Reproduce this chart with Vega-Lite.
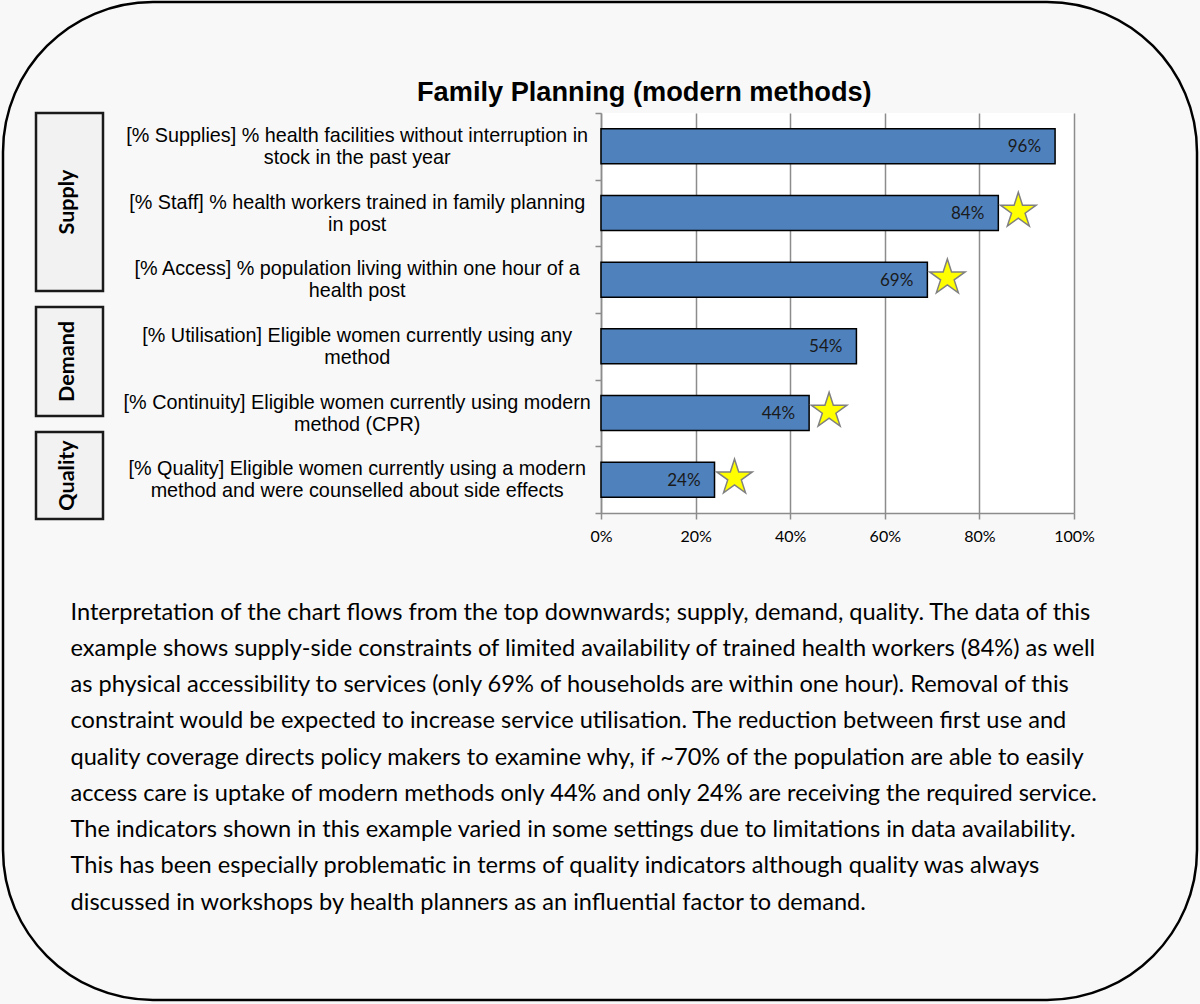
{
  "$schema": "https://vega.github.io/schema/vega-lite/v6.json",
  "width": 473,
  "height": 400,
  "autosize": {"type": "none"},
  "padding": {"left": 601, "top": 113, "right": 126, "bottom": 491},
  "background": "#f8f8f8",
  "view": {"fill": "#ffffff", "stroke": null},
  "title": {
    "text": "Family Planning (modern methods)",
    "font": "Liberation Sans",
    "fontSize": 27.2,
    "fontWeight": "bold",
    "color": "#000000",
    "anchor": "start",
    "frame": "group",
    "orient": "top",
    "offset": 11,
    "dx": -184,
    "dy": 138.5,
    "baseline": "alphabetic"
  },
  "datasets": {
    "indicators": [
      {"indicator": "[% Supplies] % health facilities without interruption in|stock in the past year", "value": 0.96, "star": false},
      {"indicator": "[% Staff] % health workers trained in family planning|in post", "value": 0.84, "star": true},
      {"indicator": "[% Access] % population living within one hour of a|health post", "value": 0.69, "star": true},
      {"indicator": "[% Utilisation] Eligible women currently using any|method", "value": 0.54, "star": false},
      {"indicator": "[% Continuity] Eligible women currently using modern|method (CPR)", "value": 0.44, "star": true},
      {"indicator": "[% Quality] Eligible women currently using a modern|method and were counselled about side effects", "value": 0.24, "star": true}
    ],
    "groups": [
      {"group": "Supply", "first": 0, "last": 3},
      {"group": "Demand", "first": 3, "last": 5},
      {"group": "Quality", "first": 5, "last": 6}
    ],
    "frame": [{"name": "frame"}]
  },
  "resolve": {"scale": {"x": "independent", "y": "independent"}, "axis": {"x": "independent", "y": "independent"}},
  "layer": [
    {
      "data": {"name": "frame"},
      "mark": {"type": "rect", "fill": "#ffffff", "fillOpacity": 0, "stroke": "#000000", "strokeWidth": 2.5, "cornerRadius": 150},
      "encoding": {
        "x": {"datum": 0, "type": "quantitative", "scale": {"domain": [0, 1], "range": [-598, 596], "nice": false, "zero": false}, "axis": null},
        "x2": {"datum": 1},
        "y": {"datum": 0, "type": "quantitative", "scale": {"domain": [0, 1], "range": [-111, 887], "nice": false, "zero": false}, "axis": null},
        "y2": {"datum": 1}
      }
    },
    {
      "data": {"name": "groups"},
      "mark": {"type": "rect", "fill": "#f2f2f2", "stroke": "#1a1a1a", "strokeWidth": 2.5, "yOffset": 8, "y2Offset": -8},
      "encoding": {
        "x": {"datum": 0, "type": "quantitative", "scale": {"domain": [0, 1], "range": [-565, -498], "nice": false, "zero": false}, "axis": null},
        "x2": {"datum": 1},
        "y": {"field": "first", "type": "quantitative", "scale": {"domain": [0, 3, 5, 6], "range": [-8, 186, 311, 414], "nice": false, "zero": false}, "axis": null},
        "y2": {"field": "last"}
      }
    },
    {
      "data": {"name": "groups"},
      "transform": [{"fold": ["first", "last"], "as": ["edge", "pos"]}],
      "mark": {"type": "text", "angle": 270, "font": "Lato", "fontWeight": "bold", "fontSize": 21.5, "align": "center", "baseline": "middle", "color": "#000000"},
      "encoding": {
        "x": {"datum": 0.48, "type": "quantitative", "scale": {"domain": [0, 1], "range": [-565, -498], "nice": false, "zero": false}, "axis": null},
        "y": {"aggregate": "mean", "field": "pos", "type": "quantitative", "scale": {"domain": [0, 3, 5, 6], "range": [-8, 186, 311, 414], "nice": false, "zero": false}, "axis": null},
        "text": {"field": "group", "type": "nominal"}
      }
    },
    {
      "data": {"name": "indicators"},
      "mark": {"type": "bar", "fill": "#4f81bd", "stroke": "#000000", "strokeWidth": 1.5, "height": {"band": 0.525}},
      "encoding": {
        "y": {
          "field": "indicator",
          "type": "nominal",
          "sort": null,
          "scale": {"paddingInner": 0, "paddingOuter": 0},
          "axis": {
            "orient": "left",
            "title": null,
            "grid": false,
            "domainColor": "#8c8c8c",
            "domainWidth": 1.5,
            "tickBand": "extent",
            "tickColor": "#8c8c8c",
            "tickWidth": 1.5,
            "tickSize": 6,
            "labelExpr": "split(datum.label, '|')",
            "labelFont": "Liberation Sans",
            "labelFontSize": 19.8,
            "labelColor": "#000000",
            "labelLineHeight": 22,
            "labelAlign": "center",
            "labelBaseline": "middle",
            "labelOffset": -11,
            "labelPadding": 238.3,
            "labelLimit": 2000,
            "labelOverlap": false,
            "labelBound": false,
            "labelFlush": false
          }
        },
        "x": {
          "field": "value",
          "type": "quantitative",
          "scale": {"domain": [0, 1], "nice": false, "zero": true},
          "axis": {
            "orient": "bottom",
            "grid": true,
            "gridColor": "#8c8c8c",
            "gridWidth": 1.5,
            "values": [0, 0.2, 0.4, 0.6, 0.8, 1],
            "format": ".0%",
            "domainColor": "#8c8c8c",
            "domainWidth": 1.5,
            "tickColor": "#8c8c8c",
            "tickWidth": 1.5,
            "tickSize": 6,
            "labelFont": "Lato",
            "labelFontSize": 16,
            "labelColor": "#000000",
            "labelPadding": 9,
            "labelFlush": false,
            "title": [
              "Interpretation of the chart flows from the top downwards; supply, demand, quality. The data of this",
              "example shows supply-side constraints of limited availability of trained health workers (84%) as well",
              "as physical accessibility to services (only 69% of households are within one hour). Removal of this",
              "constraint would be expected to increase service utilisation. The reduction between first use and",
              "quality coverage directs policy makers to examine why, if ~70% of the population are able to easily",
              "access care is uptake of modern methods only 44% and only 24% are receiving the required service.",
              "The indicators shown in this example varied in some settings due to limitations in data availability.",
              "This has been especially problematic in terms of quality indicators although quality was always",
              "discussed in workshops by health planners as an influential factor to demand."
            ],
            "titleFont": "Lato",
            "titleFontSize": 23.6,
            "titleFontWeight": "normal",
            "titleColor": "#000000",
            "titleAlign": "left",
            "titleAnchor": "start",
            "titleX": -531,
            "titleY": 106,
            "titleBaseline": "alphabetic",
            "titleLineHeight": 36.25,
            "titleLimit": 3000
          }
        }
      }
    },
    {
      "data": {"name": "indicators"},
      "mark": {"type": "text", "align": "right", "baseline": "middle", "dx": -14, "dy": 1, "font": "Lato", "fontSize": 17, "color": "#1a1a1a"},
      "encoding": {
        "y": {"field": "indicator", "type": "nominal", "sort": null, "scale": {"paddingInner": 0, "paddingOuter": 0}, "axis": null},
        "x": {"field": "value", "type": "quantitative", "scale": {"domain": [0, 1], "nice": false, "zero": true}, "axis": null},
        "text": {"field": "value", "type": "quantitative", "format": ".0%"}
      }
    },
    {
      "data": {"name": "indicators"},
      "transform": [{"filter": "datum.star"}],
      "mark": {
        "type": "point",
        "shape": "M0,-1L0.2245,-0.309L0.951,-0.309L0.363,0.118L0.588,0.809L0,0.382L-0.588,0.809L-0.363,0.118L-0.951,-0.309L-0.2245,-0.309Z",
        "size": 1400,
        "filled": true,
        "fill": "#ffff00",
        "stroke": "#808080",
        "strokeWidth": 1.5,
        "opacity": 1,
        "xOffset": 20,
        "yOffset": -2
      },
      "encoding": {
        "y": {"field": "indicator", "type": "nominal", "sort": null, "scale": {"domain": [
          "[% Supplies] % health facilities without interruption in|stock in the past year",
          "[% Staff] % health workers trained in family planning|in post",
          "[% Access] % population living within one hour of a|health post",
          "[% Utilisation] Eligible women currently using any|method",
          "[% Continuity] Eligible women currently using modern|method (CPR)",
          "[% Quality] Eligible women currently using a modern|method and were counselled about side effects"
        ], "paddingInner": 0, "paddingOuter": 0}, "axis": null},
        "x": {"field": "value", "type": "quantitative", "scale": {"domain": [0, 1], "nice": false, "zero": true}, "axis": null}
      }
    }
  ]
}
